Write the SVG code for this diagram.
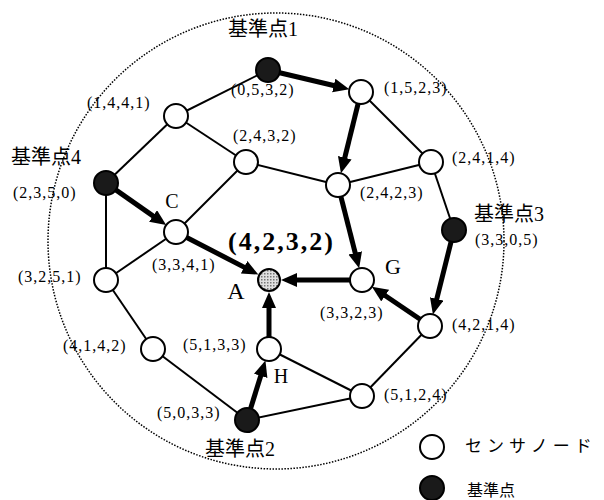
<svg xmlns="http://www.w3.org/2000/svg" width="604" height="500" viewBox="0 0 604 500">
<style>
.t{font-family:"Liberation Serif","Noto Sans CJK JP",serif;fill:#000}
.c{font-size:16px;letter-spacing:1px}
.j{font-size:20px}
.l{font-size:21px;text-anchor:middle}
.e{stroke:#000;stroke-width:2;fill:none}
.a{stroke:#000;stroke-width:5;fill:none;marker-end:url(#ah)}
.w{fill:#fff;stroke:#000;stroke-width:2}
.b{fill:#1a1a1a;stroke:#000;stroke-width:2}
</style>
<defs>
<marker id="ah" markerUnits="userSpaceOnUse" markerWidth="17" markerHeight="15" refX="2" refY="7" orient="auto">
<path d="M0,0 L16,7 L0,14 z" fill="#000"/>
</marker>
<pattern id="dots" width="3" height="3" patternUnits="userSpaceOnUse">
<rect width="3" height="3" fill="#e0e0e0"/>
<rect width="1.5" height="1.5" fill="#777"/>
</pattern>
</defs>
<circle cx="276" cy="241" r="228" fill="none" stroke="#000" stroke-width="1.5" stroke-dasharray="1.5 1.5"/>
<g id="connectors">
<line class="e" x1="268" y1="70" x2="176" y2="116"/>
<line class="e" x1="176" y1="116" x2="246" y2="162"/>
<line class="e" x1="176" y1="116" x2="106" y2="183"/>
<line class="e" x1="246" y1="162" x2="176" y2="232"/>
<line class="e" x1="246" y1="162" x2="338" y2="185"/>
<line class="e" x1="338" y1="185" x2="431" y2="162"/>
<line class="e" x1="361" y1="92" x2="431" y2="162"/>
<line class="e" x1="431" y1="162" x2="454" y2="230"/>
<line class="e" x1="106" y1="183" x2="106" y2="280"/>
<line class="e" x1="176" y1="232" x2="106" y2="280"/>
<line class="e" x1="106" y1="280" x2="153" y2="349"/>
<line class="e" x1="153" y1="349" x2="247" y2="420"/>
<line class="e" x1="247" y1="420" x2="362" y2="396"/>
<line class="e" x1="269" y1="349" x2="362" y2="396"/>
<line class="e" x1="362" y1="396" x2="430" y2="326"/>
<line class="a" x1="279.7" y1="72.8" x2="335.7" y2="86"/>
<line class="a" x1="358.1" y1="103.7" x2="344.3" y2="159.7"/>
<line class="a" x1="340.9" y1="196.6" x2="355.7" y2="254.8"/>
<line class="a" x1="350" y1="280" x2="295" y2="280"/>
<line class="a" x1="451.1" y1="241.6" x2="436.3" y2="300.8"/>
<line class="a" x1="420.1" y1="319.3" x2="383.5" y2="294.5"/>
<line class="a" x1="115.8" y1="189.9" x2="154.7" y2="217.1"/>
<line class="a" x1="186.7" y1="237.5" x2="245.9" y2="268.1"/>
<line class="a" x1="250.6" y1="408.5" x2="261.3" y2="373.9"/>
<line class="a" x1="269" y1="337" x2="269" y2="306"/>
</g>
<g id="ref1"><circle class="b" cx="268" cy="70" r="12"/><text class="t j" x="228" y="36">基準点1</text><text class="t c" x="231" y="95">(0,5,3,2)</text></g>
<g id="n1441"><circle class="w" cx="176" cy="116" r="12"/><text class="t c" x="87" y="108">(1,4,4,1)</text></g>
<g id="n2432"><circle class="w" cx="246" cy="162" r="12"/><text class="t c" x="233" y="141">(2,4,3,2)</text></g>
<g id="n1523"><circle class="w" cx="361" cy="92" r="12"/><text class="t c" x="384" y="93">(1,5,2,3)</text></g>
<g id="n2414"><circle class="w" cx="431" cy="162" r="12"/><text class="t c" x="452" y="163">(2,4,1,4)</text></g>
<g id="n2423"><circle class="w" cx="338" cy="185" r="12"/><text class="t c" x="360" y="198">(2,4,2,3)</text></g>
<g id="ref4"><circle class="b" cx="106" cy="183" r="12"/><text class="t j" x="11" y="164">基準点4</text><text class="t c" x="13" y="198">(2,3,5,0)</text></g>
<g id="ref3"><circle class="b" cx="454" cy="230" r="12"/><text class="t j" x="474" y="221">基準点3</text><text class="t c" x="475" y="245">(3,3,0,5)</text></g>
<g id="nC"><circle class="w" cx="176" cy="232" r="12"/><text class="t l" x="172" y="208" style="font-size:20px">C</text><text class="t c" x="152" y="270">(3,3,4,1)</text></g>
<g id="nA"><circle cx="269" cy="280" r="11" fill="url(#dots)" stroke="#000" stroke-width="2"/><text class="t l" x="236" y="299" style="font-size:24px">A</text><text class="t" x="228" y="250" style="font-size:26px;font-weight:bold;letter-spacing:2px">(4,2,3,2)</text></g>
<g id="nG"><circle class="w" cx="362" cy="280" r="12"/><text class="t l" x="393" y="274" style="font-size:22px">G</text><text class="t c" x="320" y="318">(3,3,2,3)</text></g>
<g id="n3251"><circle class="w" cx="106" cy="280" r="12"/><text class="t c" x="18" y="282">(3,2,5,1)</text></g>
<g id="n4142"><circle class="w" cx="153" cy="349" r="12"/><text class="t c" x="63" y="351">(4,1,4,2)</text></g>
<g id="nH"><circle class="w" cx="269" cy="349" r="12"/><text class="t l" x="281" y="383" style="font-size:20px">H</text><text class="t c" x="183" y="350">(5,1,3,3)</text></g>
<g id="n4214"><circle class="w" cx="430" cy="326" r="12"/><text class="t c" x="452" y="330">(4,2,1,4)</text></g>
<g id="n5124"><circle class="w" cx="362" cy="396" r="12"/><text class="t c" x="384" y="400">(5,1,2,4)</text></g>
<g id="ref2"><circle class="b" cx="247" cy="420" r="12"/><text class="t j" x="205" y="456">基準点2</text><text class="t c" x="157" y="418">(5,0,3,3)</text></g>
<g id="legend">
<circle class="w" cx="432" cy="447" r="12"/><text class="t" x="465" y="452" style="font-size:17px;letter-spacing:5px">センサノード</text>
<circle class="b" cx="432" cy="488" r="12"/><text class="t" x="467" y="496" style="font-size:16px">基準点</text>
</g>
</svg>
